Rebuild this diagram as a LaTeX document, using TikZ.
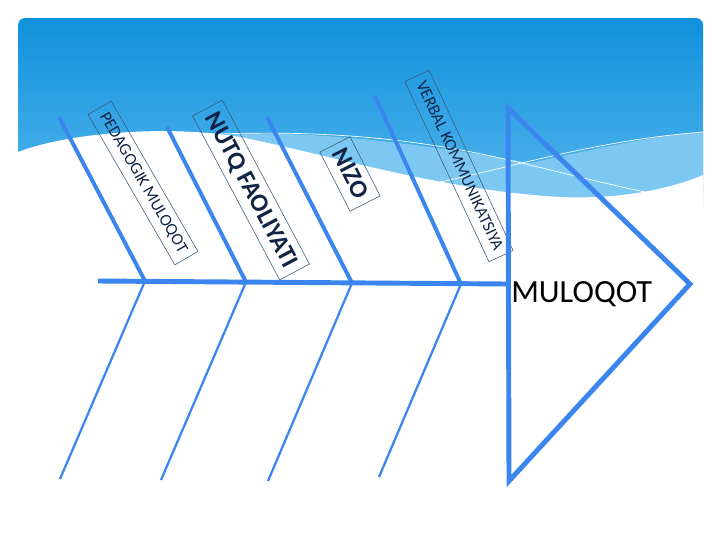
\documentclass[tikz,border=0pt]{standalone}
\usepackage{fontspec}
\setmainfont{Carlito}
\usetikzlibrary{calc}
\definecolor{bonecolor}{RGB}{58,134,238}
\definecolor{skytop}{RGB}{16,145,220}
\definecolor{skybot}{RGB}{84,182,238}
\definecolor{skyband}{RGB}{125,200,243}
\definecolor{labeltext}{RGB}{16,36,70}
\definecolor{labelline}{RGB}{60,90,120}
\tikzset{
  spine/.style    = {line width=3.5pt,color=bonecolor},
  upbone/.style   = {line width=2.8pt,color=bonecolor},
  lowbone/.style  = {line width=1.6pt,color=bonecolor},
  cause/.style    = {draw=labelline,line width=0.4pt,text=labeltext,
                     inner xsep=5pt,inner ysep=4pt,
                     font=\fontsize{12}{14}\selectfont,
                     text height=8.5pt,text depth=2.5pt},
  bigcause/.style = {cause,font=\fontsize{18}{20}\selectfont\bfseries,
                     text height=13pt,text depth=3pt},
}

\begin{document}
\begin{tikzpicture}[x=0.025cm,y=-0.025cm]
  \useasboundingbox (0,0) rectangle (720,540);
  % slide background
  \shade[top color=skytop,bottom color=skybot,rounded corners=5]
        (18,18) rectangle (703,205);
  \fill[skyband] (205,136) .. controls (300,127) and (430,145) .. (530,163)
        .. controls (590,150) and (650,136) .. (703,132)
        -- (703,210) -- (205,210) -- cycle;
  \fill[white] (18,152) .. controls (70,132) and (170,125) .. (240,137)
        .. controls (330,155) and (440,190) .. (560,197)
        .. controls (630,200) and (680,185) .. (703,175)
        -- (703,215) -- (18,215) -- cycle;
  \draw[white,line width=0.5pt] (220,134) .. controls (330,130) and (420,140) .. (500,158)
        .. controls (560,172) and (610,185) .. (650,193);
  \draw[white,line width=0.5pt] (440,182) .. controls (520,165) and (600,140) .. (703,132);

  % causes
  \node[cause,rotate=-60]    (pedagogik) at (143,183) {PEDAGOGIK MULOQOT};
  \node[bigcause,rotate=-62] (nutq)      at (251,190) {NUTQ FAOLIYATI};
  \node[bigcause,rotate=-63] (nizo)      at (350,174) {NIZO};
  \node[cause,rotate=-65]    (verbal)    at (459,166) {VERBAL KOMMUNIKATSIYA};

  % skeleton
  \coordinate (tail) at (98,281);
  \coordinate (neck) at (508,284);
  \coordinate (j1) at (145,281);
  \coordinate (j2) at (246,282);
  \coordinate (j3) at (352,283);
  \coordinate (j4) at (461,284);
  \coordinate (u1) at (59,117);
  \coordinate (u2) at (167,127);
  \coordinate (u3) at (267,117);
  \coordinate (u4) at (375,96);
  \coordinate (d1) at (60,479);
  \coordinate (d2) at (161,480);
  \coordinate (d3) at (268,481);
  \coordinate (d4) at (379,477);
  \coordinate (htop) at (508,108);
  \coordinate (htip) at (690,284);
  \coordinate (hbot) at (509,481);

  \draw[upbone] (u1) -- (j1);
  \draw[upbone] (u2) -- (j2);
  \draw[upbone] (u3) -- (j3);
  \draw[upbone] (u4) -- (j4);
  \draw[lowbone] (j1) -- (d1);
  \draw[lowbone] (j2) -- (d2);
  \draw[lowbone] (j3) -- (d3);
  \draw[lowbone] (j4) -- (d4);
  \draw[spine] (tail) -- (neck);
  \draw[spine] (htop) -- (htip) -- (hbot) -- cycle;

  \node[anchor=base west,inner sep=0pt,font=\fontsize{23}{25}\selectfont]
        (muloqot) at (511,302) {MULOQOT};
\end{tikzpicture}
\end{document}
